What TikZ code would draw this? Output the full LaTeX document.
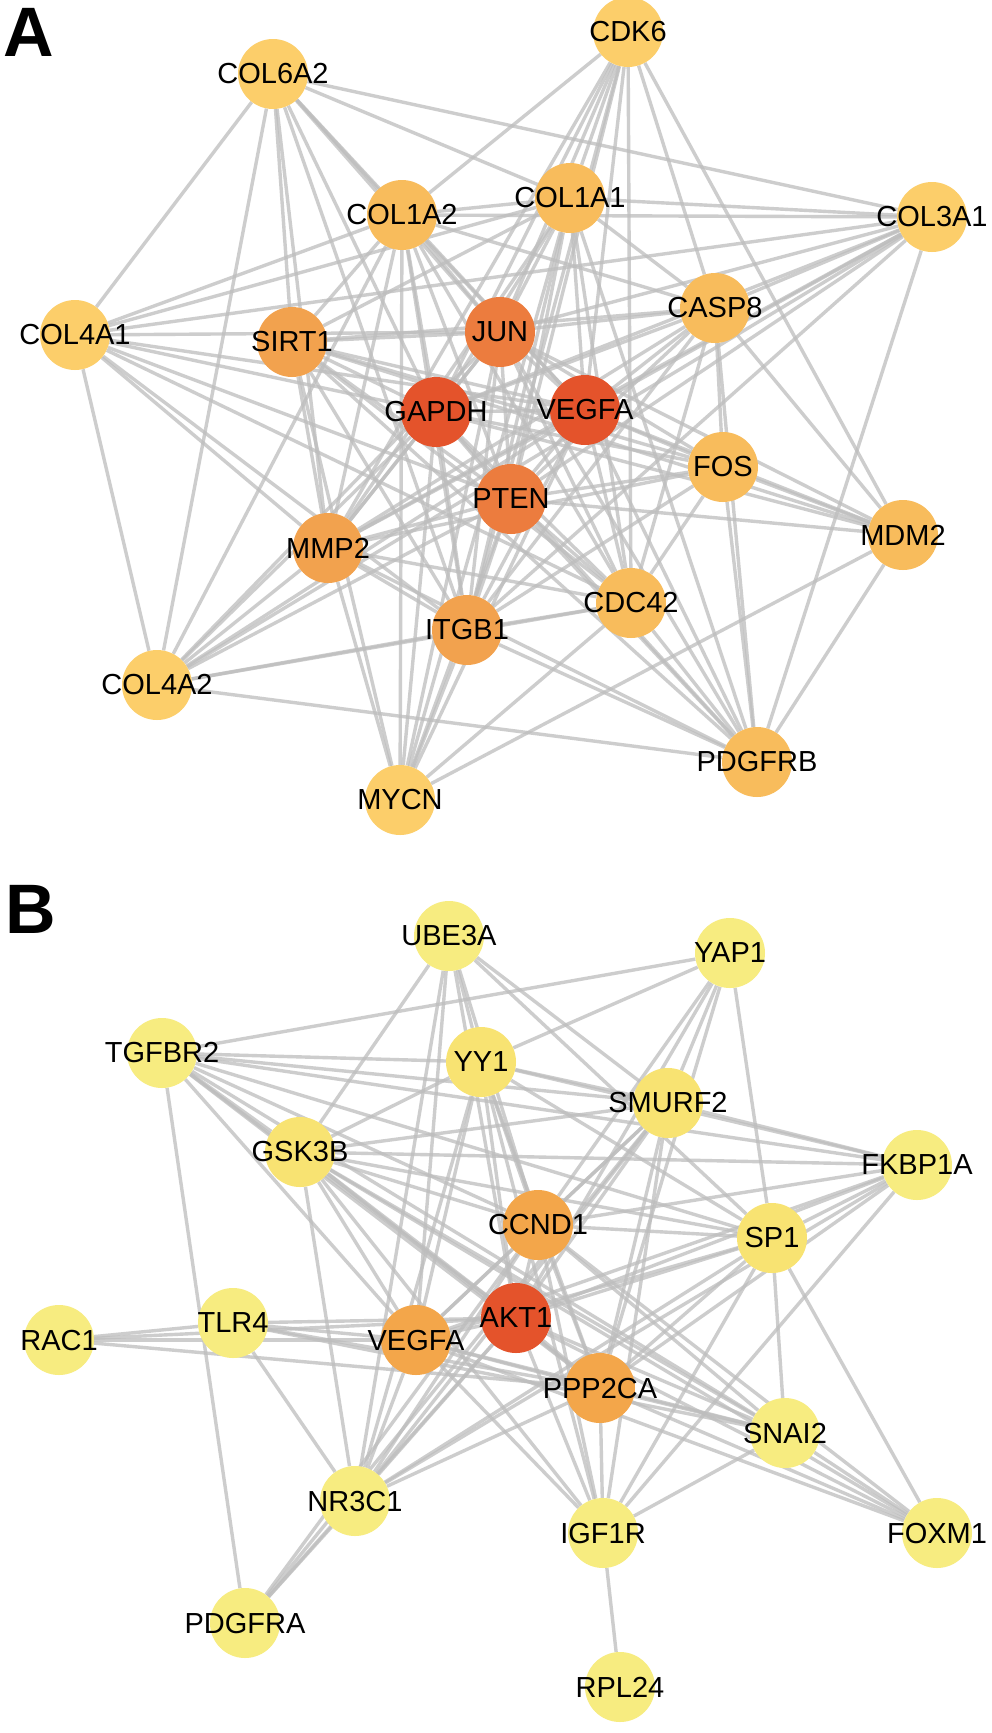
\documentclass[tikz,border=0pt]{standalone}
\usepackage{fontspec}
\setmainfont{Liberation Sans}
\pgfdeclarelayer{bg}
\pgfsetlayers{bg,main}
\definecolor{cone}{HTML}{E4532B}
\definecolor{ctwo}{HTML}{EC7C3E}
\definecolor{cthree}{HTML}{F2A24E}
\definecolor{cfour}{HTML}{F8BC5C}
\definecolor{cfive}{HTML}{FCCE6A}
\definecolor{byel}{HTML}{F7EC80}
\definecolor{byeltwo}{HTML}{F8E372}
\definecolor{bor}{HTML}{F3A64A}
\definecolor{edgec}{HTML}{BDBDBD}
\newcommand{\gtxt}[1]{\makebox[0pt][c]{#1}}
\tikzset{
  gn/.style={circle, minimum size=70pt, inner sep=0pt, font=\fontsize{29}{30}\selectfont, text=black},
  ed/.style={draw=edgec, line width=3.4pt, opacity=0.75},
  panel/.style={font=\fontsize{70}{70}\selectfont\bfseries, anchor=north west, inner sep=0pt}
}
\begin{document}
\begin{tikzpicture}[x=1pt,y=-1pt]
\useasboundingbox (0,0) rectangle (992,1733);
\node[panel] (labA) at (3,8) {A};
\node[panel] (labB) at (5,885) {B};
% Panel A nodes
\node[gn, fill=cfive] (aCOL6A2) at (273,74) {\gtxt{COL6A2}};
\node[gn, fill=cfive] (aCDK6) at (628,32) {\gtxt{CDK6}};
\node[gn, fill=cfour] (aCOL1A2) at (402,215) {\gtxt{COL1A2}};
\node[gn, fill=cfour] (aCOL1A1) at (570,198) {\gtxt{COL1A1}};
\node[gn, fill=cfive] (aCOL3A1) at (932,217) {\gtxt{COL3A1}};
\node[gn, fill=cfive] (aCOL4A1) at (75,335) {\gtxt{COL4A1}};
\node[gn, fill=cthree] (aSIRT1) at (292,342) {\gtxt{SIRT1}};
\node[gn, fill=ctwo] (aJUN) at (500,332) {\gtxt{JUN}};
\node[gn, fill=cfour] (aCASP8) at (715,308) {\gtxt{CASP8}};
\node[gn, fill=cone] (aGAPDH) at (436,412) {\gtxt{GAPDH}};
\node[gn, fill=cone] (aVEGFA) at (585,410) {\gtxt{VEGFA}};
\node[gn, fill=cfour] (aFOS) at (723,467) {\gtxt{FOS}};
\node[gn, fill=ctwo] (aPTEN) at (511,499) {\gtxt{PTEN}};
\node[gn, fill=cthree] (aMMP2) at (328,548) {\gtxt{MMP2}};
\node[gn, fill=cfour] (aMDM2) at (903,535) {\gtxt{MDM2}};
\node[gn, fill=cthree] (aITGB1) at (467,630) {\gtxt{ITGB1}};
\node[gn, fill=cfour] (aCDC42) at (631,603) {\gtxt{CDC42}};
\node[gn, fill=cfive] (aCOL4A2) at (157,685) {\gtxt{COL4A2}};
\node[gn, fill=cfour] (aPDGFRB) at (757,762) {\gtxt{PDGFRB}};
\node[gn, fill=cfive] (aMYCN) at (400,800) {\gtxt{MYCN}};
% Panel B nodes
\node[gn, fill=byel] (bUBE3A) at (449,936) {\gtxt{UBE3A}};
\node[gn, fill=byel] (bYAP1) at (730,953) {\gtxt{YAP1}};
\node[gn, fill=byel] (bTGFBR2) at (162,1053) {\gtxt{TGFBR2}};
\node[gn, fill=byeltwo] (bYY1) at (481,1062) {\gtxt{YY1}};
\node[gn, fill=byeltwo] (bSMURF2) at (668,1103) {\gtxt{SMURF2}};
\node[gn, fill=byeltwo] (bGSK3B) at (300,1152) {\gtxt{GSK3B}};
\node[gn, fill=byel] (bFKBP1A) at (917,1165) {\gtxt{FKBP1A}};
\node[gn, fill=bor] (bCCND1) at (538,1225) {\gtxt{CCND1}};
\node[gn, fill=byeltwo] (bSP1) at (772,1238) {\gtxt{SP1}};
\node[gn, fill=byel] (bRAC1) at (59,1340) {\gtxt{RAC1}};
\node[gn, fill=byel] (bTLR4) at (233,1323) {\gtxt{TLR4}};
\node[gn, fill=bor] (bVEGFA) at (416,1340) {\gtxt{VEGFA}};
\node[gn, fill=cone] (bAKT1) at (516,1318) {\gtxt{AKT1}};
\node[gn, fill=bor] (bPPP2CA) at (600,1388) {\gtxt{PPP2CA}};
\node[gn, fill=byel] (bSNAI2) at (785,1433) {\gtxt{SNAI2}};
\node[gn, fill=byel] (bNR3C1) at (355,1501) {\gtxt{NR3C1}};
\node[gn, fill=byel] (bIGF1R) at (603,1533) {\gtxt{IGF1R}};
\node[gn, fill=byel] (bFOXM1) at (937,1533) {\gtxt{FOXM1}};
\node[gn, fill=byel] (bPDGFRA) at (245,1623) {\gtxt{PDGFRA}};
\node[gn, fill=byel] (bRPL24) at (620,1687) {\gtxt{RPL24}};
\begin{pgfonlayer}{bg}
\fill[white] (0,0) rectangle (992,1733);
% Panel A edges
\foreach \t in {COL6A2,CDK6,COL1A2,COL1A1,COL3A1,COL4A1,SIRT1,JUN,CASP8,VEGFA,FOS,PTEN,MMP2,MDM2,ITGB1,CDC42,COL4A2,PDGFRB,MYCN}
  \draw[ed] (aGAPDH) -- (a\t);
\foreach \t in {COL6A2,CDK6,COL1A2,COL1A1,COL3A1,COL4A1,SIRT1,JUN,CASP8,FOS,PTEN,MMP2,MDM2,ITGB1,CDC42,COL4A2,PDGFRB,MYCN}
  \draw[ed] (aVEGFA) -- (a\t);
\foreach \t in {COL6A2,CDK6,COL1A2,COL1A1,COL3A1,COL4A1,SIRT1,CASP8,FOS,PTEN,MMP2,MDM2,ITGB1,CDC42,COL4A2,PDGFRB,MYCN}
  \draw[ed] (aJUN) -- (a\t);
\foreach \t in {CDK6,COL1A2,COL1A1,COL3A1,COL4A1,SIRT1,CASP8,FOS,MMP2,MDM2,ITGB1,CDC42,COL4A2,PDGFRB,MYCN}
  \draw[ed] (aPTEN) -- (a\t);
\foreach \t in {COL6A2,COL1A2,COL1A1,CASP8,FOS,MMP2,ITGB1,CDC42,MYCN,PDGFRB,MDM2}
  \draw[ed] (aSIRT1) -- (a\t);
\foreach \t in {COL6A2,COL1A2,COL1A1,CASP8,COL4A1,COL4A2,ITGB1,CDC42,FOS,MYCN,COL3A1,CDK6,PDGFRB}
  \draw[ed] (aMMP2) -- (a\t);
\foreach \t in {COL1A2,COL1A1,CDK6,CASP8,COL4A1,COL4A2,CDC42,FOS,MYCN,PDGFRB,COL3A1,COL6A2}
  \draw[ed] (aITGB1) -- (a\t);
\foreach \t in {COL1A1,CDK6,CASP8,FOS,MYCN,PDGFRB,COL1A2,COL4A2,COL4A1}
  \draw[ed] (aCDC42) -- (a\t);
\foreach \t in {COL1A2,COL1A1,CDK6,COL3A1,FOS,PDGFRB,MDM2}
  \draw[ed] (aCASP8) -- (a\t);
\foreach \t in {COL1A2,CDK6,COL3A1,COL6A2,COL4A1,MYCN,PDGFRB}
  \draw[ed] (aCOL1A1) -- (a\t);
\foreach \t in {COL6A2,CDK6,COL3A1,COL4A1,COL4A2,MYCN}
  \draw[ed] (aCOL1A2) -- (a\t);
\foreach \t in {COL6A2,PDGFRB,COL4A2}
  \draw[ed] (aCOL3A1) -- (a\t);
\foreach \t in {COL4A1,COL4A2}
  \draw[ed] (aCOL6A2) -- (a\t);
\foreach \t in {FOS,PDGFRB,CDK6,MYCN}
  \draw[ed] (aMDM2) -- (a\t);
\draw[ed] (aFOS) -- (aPDGFRB);
\draw[ed] (aCOL4A1) -- (aCOL4A2);
\draw[ed] (aCOL4A1) -- (aCOL3A1);
\draw[ed] (aCOL4A2) -- (aPDGFRB);
% Panel B edges
\foreach \t in {UBE3A,YAP1,TGFBR2,YY1,SMURF2,GSK3B,FKBP1A,CCND1,SP1,RAC1,TLR4,VEGFA,PPP2CA,SNAI2,NR3C1,IGF1R,FOXM1,PDGFRA}
  \draw[ed] (bAKT1) -- (b\t);
\foreach \t in {UBE3A,YAP1,TGFBR2,YY1,SMURF2,GSK3B,FKBP1A,SP1,VEGFA,PPP2CA,SNAI2,NR3C1,IGF1R,FOXM1,PDGFRA}
  \draw[ed] (bCCND1) -- (b\t);
\foreach \t in {UBE3A,YY1,SMURF2,GSK3B,FKBP1A,SP1,RAC1,TLR4,PPP2CA,SNAI2,NR3C1,IGF1R,FOXM1,TGFBR2}
  \draw[ed] (bVEGFA) -- (b\t);
\foreach \t in {YAP1,TGFBR2,YY1,SMURF2,GSK3B,FKBP1A,SP1,RAC1,TLR4,SNAI2,NR3C1,IGF1R,FOXM1}
  \draw[ed] (bPPP2CA) -- (b\t);
\foreach \t in {TGFBR2,UBE3A,YY1,SMURF2,FKBP1A,SNAI2,FOXM1,IGF1R,NR3C1,SP1}
  \draw[ed] (bGSK3B) -- (b\t);
\foreach \t in {UBE3A,YAP1,SMURF2,FKBP1A,IGF1R,NR3C1,TGFBR2,SP1}
  \draw[ed] (bYY1) -- (b\t);
\foreach \t in {UBE3A,YAP1,FKBP1A,TGFBR2,IGF1R,NR3C1,PDGFRA}
  \draw[ed] (bSMURF2) -- (b\t);
\foreach \t in {YAP1,FKBP1A,NR3C1,IGF1R,SNAI2,FOXM1,UBE3A,TGFBR2}
  \draw[ed] (bSP1) -- (b\t);
\foreach \t in {TGFBR2,IGF1R,NR3C1}
  \draw[ed] (bFKBP1A) -- (b\t);
\draw[ed] (bYAP1) -- (bTGFBR2);
\draw[ed] (bTGFBR2) -- (bPDGFRA);
\draw[ed] (bTGFBR2) -- (bSNAI2);
\foreach \t in {RAC1,NR3C1,SNAI2}
  \draw[ed] (bTLR4) -- (b\t);
\draw[ed] (bNR3C1) -- (bPDGFRA);
\draw[ed] (bNR3C1) -- (bUBE3A);
\draw[ed] (bIGF1R) -- (bRPL24);
\draw[ed] (bIGF1R) -- (bSNAI2);
\draw[ed] (bSNAI2) -- (bFOXM1);
\end{pgfonlayer}
\end{tikzpicture}
\end{document}
